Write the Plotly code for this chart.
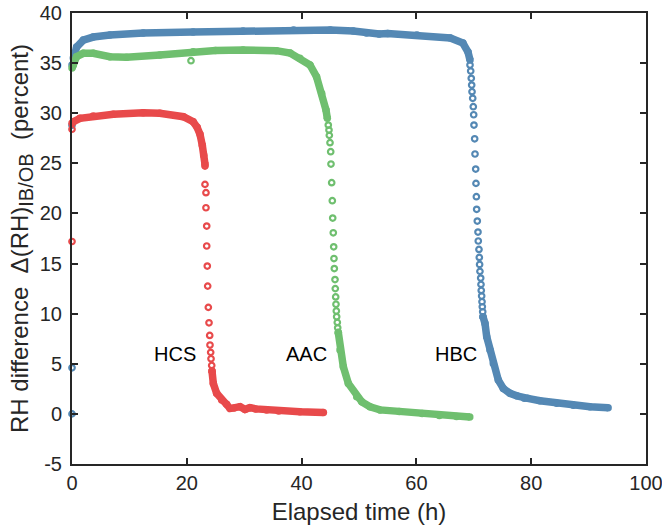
import plotly.graph_objects as go

# ---------------- data ----------------
# HBC (blue)
hbc_iso_t = [0.0, 0.0, 0.0]
hbc_iso_v = [0.0, 4.6, 28.8]
hbc_plateau_t = [0.0, 0.23, 0.8, 1.97, 3.7, 6.6, 12.4, 21.1, 29.8, 38.6, 45.0, 49.0, 51.3, 53.5, 55.0, 60.1, 65.9, 68.1, 69.0, 69.34]
hbc_plateau_v = [34.8, 35.5, 36.6, 37.3, 37.6, 37.8, 38.0, 38.1, 38.2, 38.3, 38.3, 38.2, 38.0, 37.9, 37.95, 37.8, 37.5, 37.0, 36.1, 35.3]
hbc_drop_t = [69.34, 69.46, 69.56, 69.63, 69.69, 69.81, 69.91, 69.98, 70.03, 70.15, 70.21, 70.33, 70.38, 70.45,
              70.50, 70.61, 70.73, 70.78, 70.90, 70.96, 71.01, 71.07, 71.20, 71.25, 71.30, 71.37, 71.43, 71.48, 71.55, 71.60]
hbc_drop_v = [34.81, 34.21, 33.48, 32.81, 32.15, 31.49, 30.65, 29.85, 28.82, 27.45, 25.93, 24.43, 23.0, 21.67,
              20.41, 19.24, 18.14, 17.25, 16.41, 15.61, 14.91, 14.22, 13.55, 12.92, 12.32, 11.76, 11.19, 10.69, 10.19, 9.69]
hbc_tail_t = [71.6, 71.95, 72.25, 72.82, 73.4, 74.27, 75.14, 76.31, 77.5, 78.8, 79.4, 81.53, 84.44, 87.34, 90.24, 93.4]
hbc_tail_v = [9.69, 9.03, 7.69, 6.37, 5.04, 3.37, 2.54, 2.05, 1.8, 1.55, 1.55, 1.31, 1.05, 0.85, 0.71, 0.61]

# AAC (green)
aac_iso_t = [20.73]
aac_iso_v = [35.24]
aac_plateau_t = [0.0, 0.23, 0.8, 1.97, 3.7, 6.6, 9.5, 15.3, 21.1, 25.0, 29.8, 35.6, 38.0, 39.7, 41.46, 42.6, 43.5, 44.25, 44.48]
aac_plateau_v = [34.5, 34.81, 35.64, 35.98, 35.98, 35.64, 35.58, 35.81, 36.14, 36.25, 36.3, 36.24, 36.0, 35.48, 34.81, 33.64, 31.98, 30.32, 29.49]
aac_drop_t = [44.65, 44.77, 44.83, 44.95, 45.07, 45.12, 45.24, 45.35, 45.42, 45.52, 45.59, 45.64, 45.70, 45.82, 45.87,
              45.94, 45.99, 46.05, 46.11, 46.22, 46.29, 46.39]
aac_drop_v = [28.82, 28.32, 27.79, 27.06, 26.16, 24.93, 23.07, 21.27, 19.54, 18.07, 16.67, 15.5, 14.50, 13.40, 12.50,
              11.67, 10.94, 10.27, 9.69, 9.13, 8.59, 8.13]
aac_tail_t = [46.39, 46.69, 47.27, 48.14, 49.6, 50.5, 51.92, 53.66, 57.0, 61.0, 64.0, 67.0, 69.3]
aac_tail_v = [8.13, 6.37, 4.70, 3.04, 1.71, 1.2, 0.71, 0.4, 0.25, 0.05, -0.15, -0.25, -0.3]

# HCS (red)
hcs_iso_t = [0.0, 0.0]
hcs_iso_v = [17.2, 28.4]
hcs_plateau_t = [0.0, 0.23, 1.39, 3.7, 7.2, 12.4, 15.3, 19.4, 21.1, 21.8, 22.3, 22.7, 22.95, 23.17]
hcs_plateau_v = [29.0, 29.15, 29.49, 29.72, 29.89, 30.05, 29.99, 29.65, 29.15, 28.6, 27.9, 26.8, 25.8, 24.9]
hcs_drop_t = [23.17, 23.17, 23.34, 23.34, 23.47, 23.47, 23.57, 23.64, 23.75, 23.87, 23.99, 24.04, 24.16, 24.22, 24.34, 24.39]
hcs_drop_v = [24.73, 22.90, 22.07, 20.57, 18.74, 16.75, 14.75, 12.75, 10.63, 9.09, 7.83, 6.87, 6.14, 5.50, 4.84, 4.27]
hcs_tail_t = [24.39, 24.62, 25.2, 26.08, 26.95, 27.53, 28.2, 29.27, 30.14, 31.0, 32.0, 33.9, 36.0, 39.7, 43.8]
hcs_tail_v = [4.27, 3.04, 2.05, 1.38, 0.95, 0.55, 0.6, 0.72, 0.45, 0.62, 0.5, 0.4, 0.3, 0.21, 0.13]

labels = ["HCS", "AAC", "HBC"]
label_t = [18.0, 40.8, 66.9]
label_v = [6.0, 6.0, 6.0]

x_tickvals = [0, 20, 40, 60, 80, 100]
x_ticktext = ["0", "20", "40", "60", "80", "100"]
y_tickvals = [-5, 0, 5, 10, 15, 20, 25, 30, 35, 40]
y_ticktext = ["-5", "0", "5", "10", "15", "20", "25", "30", "35", "40"]

# ---------------- styling ----------------
BLUE = "#5488b4"
GREEN = "#6fbf6f"
RED = "#e84a4b"
AX = "#262626"
FONT = "Liberation Sans, Arial, Helvetica, sans-serif"

fig = go.Figure()


def add_series(color, segments, sparse_t, sparse_v):
    for t, v in segments:
        fig.add_trace(go.Scatter(
            x=t, y=v, mode="lines+markers",
            line=dict(color=color, width=7.5),
            marker=dict(symbol="circle", size=7.5, color=color),
            cliponaxis=False, showlegend=False, hoverinfo="skip"))
    fig.add_trace(go.Scatter(
        x=sparse_t, y=sparse_v, mode="markers",
        marker=dict(symbol="circle-open", size=5.5, color=color, line=dict(width=2.2, color=color)),
        cliponaxis=False, showlegend=False, hoverinfo="skip"))


add_series(BLUE, [(hbc_plateau_t, hbc_plateau_v), (hbc_tail_t, hbc_tail_v)],
           hbc_iso_t + hbc_drop_t, hbc_iso_v + hbc_drop_v)
add_series(GREEN, [(aac_plateau_t, aac_plateau_v), (aac_tail_t, aac_tail_v)],
           aac_iso_t + aac_drop_t, aac_iso_v + aac_drop_v)
add_series(RED, [(hcs_plateau_t, hcs_plateau_v), (hcs_tail_t, hcs_tail_v)],
           hcs_iso_t + hcs_drop_t, hcs_iso_v + hcs_drop_v)

for name, tx, ty in zip(labels, label_t, label_v):
    fig.add_annotation(x=tx, y=ty, text=name, showarrow=False,
                       font=dict(family=FONT, size=20, color="black"))

axis_common = dict(
    showline=True, linewidth=2, linecolor=AX, mirror="ticks",
    ticks="inside", ticklen=6, tickwidth=2, tickcolor=AX,
    showgrid=False, zeroline=False, automargin=False,
    ticklabeloverflow="allow",
    tickfont=dict(family=FONT, size=20, color=AX),
)

fig.update_layout(
    width=662, height=528,
    margin=dict(l=72, r=16, t=13, b=64),
    paper_bgcolor="white", plot_bgcolor="white",
    font=dict(family=FONT, color=AX),
    xaxis=dict(range=[0, 100], tickvals=x_tickvals, ticktext=x_ticktext, ticklabelstandoff=0,
               title=dict(text="Elapsed time (h)", font=dict(family=FONT, size=24, color=AX), standoff=10),
               **axis_common),
    yaxis=dict(range=[-5, 40], tickvals=y_tickvals, ticktext=y_ticktext, ticklabelstandoff=4,
               title=dict(text="RH difference  \u0394(RH)<sub><span style=\"font-size:20px\">IB/OB</span></sub>  (percent)",
                          font=dict(family=FONT, size=24, color=AX), standoff=4),
               **axis_common),
)

# remove the default 8px page margin so the figure sits at the window's top-left corner
fig.write_html("out.html", config={"displayModeBar": False},
               post_script="document.body.style.margin='0';")
